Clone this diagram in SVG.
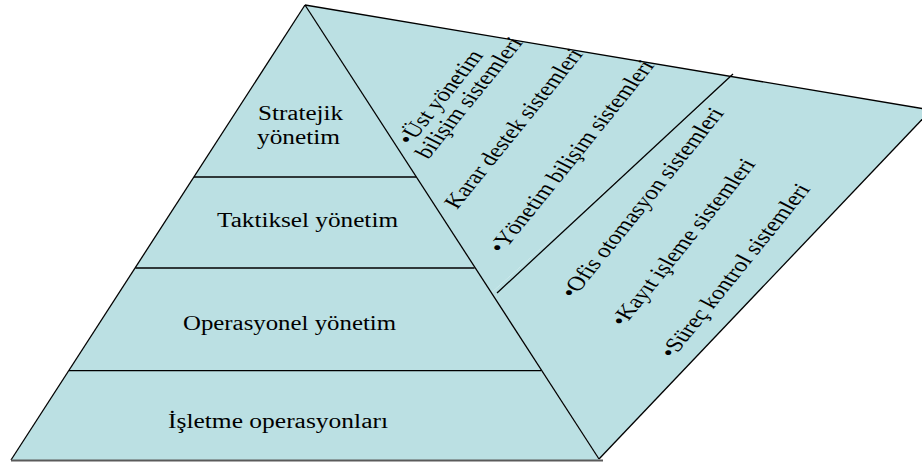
<svg xmlns="http://www.w3.org/2000/svg" width="922" height="464" viewBox="0 0 922 464">
  <style>
    .fill { fill: #BBE0E3; stroke: none; }
    .edge { stroke: #000; stroke-width: 1.3; fill: none; }
    .base { stroke: #5a5a5a; stroke-width: 2; fill: none; }
    .lbl { font-family: "Liberation Serif", "Times New Roman", serif; font-size: 20px; fill: #000; }
  </style>
  <rect width="922" height="464" fill="#fff"/>

  <!-- pyramid tiers -->
  <g id="tier-strategic">
    <polygon class="fill" points="305,5 416,177 194,177"/>
    <text class="lbl" x="258" y="120" textLength="85" lengthAdjust="spacingAndGlyphs">Stratejik</text>
    <text class="lbl" x="257" y="144" textLength="83" lengthAdjust="spacingAndGlyphs">yönetim</text>
  </g>
  <g id="tier-tactical">
    <polygon class="fill" points="194,177 416,177 474.6,268 135.4,268"/>
    <text class="lbl" x="217" y="227" textLength="181" lengthAdjust="spacingAndGlyphs">Taktiksel yönetim</text>
  </g>
  <g id="tier-operational">
    <polygon class="fill" points="135.4,268 474.6,268 541,370.7 69,370.7"/>
    <text class="lbl" x="183" y="330" textLength="213" lengthAdjust="spacingAndGlyphs">Operasyonel yönetim</text>
  </g>
  <g id="tier-operations">
    <polygon class="fill" points="69,370.7 541,370.7 599,460 11,460"/>
    <text class="lbl" x="168" y="428" textLength="220" lengthAdjust="spacingAndGlyphs">İşletme operasyonları</text>
  </g>

  <!-- information systems panels -->
  <g id="panel-management-systems">
    <polygon class="fill" points="305,5 733,76.7 491,293"/>
    <text class="lbl" transform="translate(410.4,145.9) scale(1.25,1) rotate(-57)" textLength="108" lengthAdjust="spacingAndGlyphs">•Üst yönetim</text>
    <text class="lbl" transform="translate(428,160) scale(1.25,1) rotate(-57)" textLength="140" lengthAdjust="spacingAndGlyphs">bilişim sistemleri</text>
    <text class="lbl" transform="translate(457,210) scale(1.25,1) rotate(-57)" textLength="186" lengthAdjust="spacingAndGlyphs">Karar destek sistemleri</text>
    <text class="lbl" transform="translate(501.7,254.2) scale(1.25,1) rotate(-57)" textLength="225" lengthAdjust="spacingAndGlyphs">•Yönetim bilişim sistemleri</text>
  </g>
  <g id="panel-operational-systems">
    <polygon class="fill" points="733,76.7 931,110 599,459 491,293"/>
    <text class="lbl" transform="translate(573.4,299.2) scale(1.25,1) rotate(-57)" textLength="222" lengthAdjust="spacingAndGlyphs">•Ofis otomasyon sistemleri</text>
    <text class="lbl" transform="translate(623.4,327.6) scale(1.25,1) rotate(-57)" textLength="195" lengthAdjust="spacingAndGlyphs">•Kayıt işleme sistemleri</text>
    <text class="lbl" transform="translate(672.7,359.2) scale(1.25,1) rotate(-57)" textLength="203" lengthAdjust="spacingAndGlyphs">•Süreç kontrol sistemleri</text>
  </g>

  <!-- outlines and dividers -->
  <g id="connectors">
    <line class="edge" x1="305" y1="5" x2="11" y2="460"/>
    <line class="edge" x1="305" y1="5" x2="599" y2="459"/>
    <line class="edge" x1="305" y1="5" x2="931" y2="110"/>
    <line class="edge" x1="931" y1="110" x2="599" y2="459"/>
    <line class="edge" x1="497" y1="293" x2="733" y2="74"/>
    <line class="edge" x1="194" y1="177" x2="416" y2="177"/>
    <line class="edge" x1="135.4" y1="268" x2="474.6" y2="268"/>
    <line class="edge" x1="69" y1="370.7" x2="541" y2="370.7"/>
    <line class="base" x1="11" y1="460.5" x2="603" y2="460.5"/>
  </g>
</svg>
